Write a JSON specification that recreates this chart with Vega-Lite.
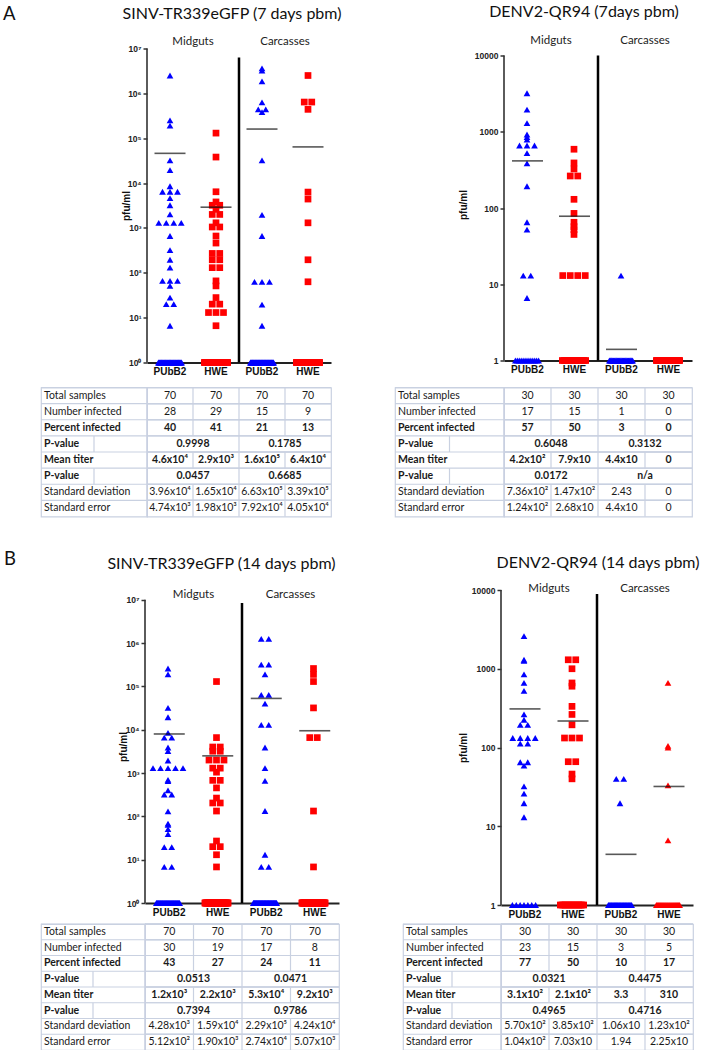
{
"$schema": "https://vega.github.io/schema/vega-lite/v6.json",
"background": "white",
"padding": {"left": 2, "top": 3.5, "right": 0, "bottom": 0},
"config": {"view": {"stroke": null}, "font": "Lato"},
"datasets": {
"rows": [
{"row":"Total samples","t":"Total samples"},{"row":"Number infected","t":"Number infected"},{"row":"Percent infected","t":"Percent infected"},{"row":"P-value (infection)","t":"P-value"},{"row":"Mean titer","t":"Mean titer"},{"row":"P-value (titer)","t":"P-value"},{"row":"Standard deviation","t":"Standard deviation"},{"row":"Standard error","t":"Standard error"}
],
"a1t": [
{"row":"Total samples","col":"Mid PUbB2","t":"70"},{"row":"Total samples","col":"Mid HWE","t":"70"},{"row":"Total samples","col":"Car PUbB2","t":"70"},{"row":"Total samples","col":"Car HWE","t":"70"},
{"row":"Number infected","col":"Mid PUbB2","t":"28"},{"row":"Number infected","col":"Mid HWE","t":"29"},{"row":"Number infected","col":"Car PUbB2","t":"15"},{"row":"Number infected","col":"Car HWE","t":"9"},
{"row":"Percent infected","col":"Mid PUbB2","t":"40"},{"row":"Percent infected","col":"Mid HWE","t":"41"},{"row":"Percent infected","col":"Car PUbB2","t":"21"},{"row":"Percent infected","col":"Car HWE","t":"13"},
{"row":"P-value (infection)","col":"Mid PUbB2","t":"0.9998"},{"row":"P-value (infection)","col":"Car PUbB2","t":"0.1785"},
{"row":"Mean titer","col":"Mid PUbB2","t":"4.6x10⁴"},{"row":"Mean titer","col":"Mid HWE","t":"2.9x10³"},{"row":"Mean titer","col":"Car PUbB2","t":"1.6x10⁵"},{"row":"Mean titer","col":"Car HWE","t":"6.4x10⁴"},
{"row":"P-value (titer)","col":"Mid PUbB2","t":"0.0457"},{"row":"P-value (titer)","col":"Car PUbB2","t":"0.6685"},
{"row":"Standard deviation","col":"Mid PUbB2","t":"3.96x10⁴"},{"row":"Standard deviation","col":"Mid HWE","t":"1.65x10⁴"},{"row":"Standard deviation","col":"Car PUbB2","t":"6.63x10⁵"},{"row":"Standard deviation","col":"Car HWE","t":"3.39x10⁵"},
{"row":"Standard error","col":"Mid PUbB2","t":"4.74x10³"},{"row":"Standard error","col":"Mid HWE","t":"1.98x10³"},{"row":"Standard error","col":"Car PUbB2","t":"7.92x10⁴"},{"row":"Standard error","col":"Car HWE","t":"4.05x10⁴"}
],
"a2t": [
{"row":"Total samples","col":"Mid PUbB2","t":"30"},{"row":"Total samples","col":"Mid HWE","t":"30"},{"row":"Total samples","col":"Car PUbB2","t":"30"},{"row":"Total samples","col":"Car HWE","t":"30"},
{"row":"Number infected","col":"Mid PUbB2","t":"17"},{"row":"Number infected","col":"Mid HWE","t":"15"},{"row":"Number infected","col":"Car PUbB2","t":"1"},{"row":"Number infected","col":"Car HWE","t":"0"},
{"row":"Percent infected","col":"Mid PUbB2","t":"57"},{"row":"Percent infected","col":"Mid HWE","t":"50"},{"row":"Percent infected","col":"Car PUbB2","t":"3"},{"row":"Percent infected","col":"Car HWE","t":"0"},
{"row":"P-value (infection)","col":"Mid PUbB2","t":"0.6048"},{"row":"P-value (infection)","col":"Car PUbB2","t":"0.3132"},
{"row":"Mean titer","col":"Mid PUbB2","t":"4.2x10²"},{"row":"Mean titer","col":"Mid HWE","t":"7.9x10"},{"row":"Mean titer","col":"Car PUbB2","t":"4.4x10"},{"row":"Mean titer","col":"Car HWE","t":"0"},
{"row":"P-value (titer)","col":"Mid PUbB2","t":"0.0172"},{"row":"P-value (titer)","col":"Car PUbB2","t":"n/a"},
{"row":"Standard deviation","col":"Mid PUbB2","t":"7.36x10²"},{"row":"Standard deviation","col":"Mid HWE","t":"1.47x10²"},{"row":"Standard deviation","col":"Car PUbB2","t":"2.43"},{"row":"Standard deviation","col":"Car HWE","t":"0"},
{"row":"Standard error","col":"Mid PUbB2","t":"1.24x10²"},{"row":"Standard error","col":"Mid HWE","t":"2.68x10"},{"row":"Standard error","col":"Car PUbB2","t":"4.4x10"},{"row":"Standard error","col":"Car HWE","t":"0"}
],
"b1t": [
{"row":"Total samples","col":"Mid PUbB2","t":"70"},{"row":"Total samples","col":"Mid HWE","t":"70"},{"row":"Total samples","col":"Car PUbB2","t":"70"},{"row":"Total samples","col":"Car HWE","t":"70"},
{"row":"Number infected","col":"Mid PUbB2","t":"30"},{"row":"Number infected","col":"Mid HWE","t":"19"},{"row":"Number infected","col":"Car PUbB2","t":"17"},{"row":"Number infected","col":"Car HWE","t":"8"},
{"row":"Percent infected","col":"Mid PUbB2","t":"43"},{"row":"Percent infected","col":"Mid HWE","t":"27"},{"row":"Percent infected","col":"Car PUbB2","t":"24"},{"row":"Percent infected","col":"Car HWE","t":"11"},
{"row":"P-value (infection)","col":"Mid PUbB2","t":"0.0513"},{"row":"P-value (infection)","col":"Car PUbB2","t":"0.0471"},
{"row":"Mean titer","col":"Mid PUbB2","t":"1.2x10³"},{"row":"Mean titer","col":"Mid HWE","t":"2.2x10³"},{"row":"Mean titer","col":"Car PUbB2","t":"5.3x10⁴"},{"row":"Mean titer","col":"Car HWE","t":"9.2x10³"},
{"row":"P-value (titer)","col":"Mid PUbB2","t":"0.7394"},{"row":"P-value (titer)","col":"Car PUbB2","t":"0.9786"},
{"row":"Standard deviation","col":"Mid PUbB2","t":"4.28x10³"},{"row":"Standard deviation","col":"Mid HWE","t":"1.59x10⁴"},{"row":"Standard deviation","col":"Car PUbB2","t":"2.29x10⁵"},{"row":"Standard deviation","col":"Car HWE","t":"4.24x10⁴"},
{"row":"Standard error","col":"Mid PUbB2","t":"5.12x10²"},{"row":"Standard error","col":"Mid HWE","t":"1.90x10³"},{"row":"Standard error","col":"Car PUbB2","t":"2.74x10⁴"},{"row":"Standard error","col":"Car HWE","t":"5.07x10³"}
],
"b2t": [
{"row":"Total samples","col":"Mid PUbB2","t":"30"},{"row":"Total samples","col":"Mid HWE","t":"30"},{"row":"Total samples","col":"Car PUbB2","t":"30"},{"row":"Total samples","col":"Car HWE","t":"30"},
{"row":"Number infected","col":"Mid PUbB2","t":"23"},{"row":"Number infected","col":"Mid HWE","t":"15"},{"row":"Number infected","col":"Car PUbB2","t":"3"},{"row":"Number infected","col":"Car HWE","t":"5"},
{"row":"Percent infected","col":"Mid PUbB2","t":"77"},{"row":"Percent infected","col":"Mid HWE","t":"50"},{"row":"Percent infected","col":"Car PUbB2","t":"10"},{"row":"Percent infected","col":"Car HWE","t":"17"},
{"row":"P-value (infection)","col":"Mid PUbB2","t":"0.0321"},{"row":"P-value (infection)","col":"Car PUbB2","t":"0.4475"},
{"row":"Mean titer","col":"Mid PUbB2","t":"3.1x10²"},{"row":"Mean titer","col":"Mid HWE","t":"2.1x10²"},{"row":"Mean titer","col":"Car PUbB2","t":"3.3"},{"row":"Mean titer","col":"Car HWE","t":"310"},
{"row":"P-value (titer)","col":"Mid PUbB2","t":"0.4965"},{"row":"P-value (titer)","col":"Car PUbB2","t":"0.4716"},
{"row":"Standard deviation","col":"Mid PUbB2","t":"5.70x10²"},{"row":"Standard deviation","col":"Mid HWE","t":"3.85x10²"},{"row":"Standard deviation","col":"Car PUbB2","t":"1.06x10"},{"row":"Standard deviation","col":"Car HWE","t":"1.23x10²"},
{"row":"Standard error","col":"Mid PUbB2","t":"1.04x10²"},{"row":"Standard error","col":"Mid HWE","t":"7.03x10"},{"row":"Standard error","col":"Car PUbB2","t":"1.94"},{"row":"Standard error","col":"Car HWE","t":"2.25x10"}
],
"a1m": [{"g":"Mid PUbB2","v":46000},{"g":"Mid HWE","v":2900},{"g":"Car PUbB2","v":160000},{"g":"Car HWE","v":64000}],
"a2m": [{"g":"Mid PUbB2","v":415},{"g":"Mid HWE","v":78},{"g":"Car PUbB2","v":1.4}],
"b1m": [{"g":"Mid PUbB2","v":8000},{"g":"Mid HWE","v":2500},{"g":"Car PUbB2","v":53000},{"g":"Car HWE","v":9500}],
"b2m": [{"g":"Mid PUbB2","v":309},{"g":"Mid HWE","v":217},{"g":"Car PUbB2","v":4.4},{"g":"Car HWE","v":32}],
"a1": [
{"g":"Mid PUbB2","v":2500000},{"g":"Mid PUbB2","v":250000},{"g":"Mid PUbB2","v":190000},{"g":"Mid PUbB2","v":32000},{"g":"Mid PUbB2","v":19500},{"g":"Mid PUbB2","v":8500},{"g":"Mid PUbB2","v":6400},{"g":"Mid PUbB2","v":6400},{"g":"Mid PUbB2","v":6400},{"g":"Mid PUbB2","v":4600},
{"g":"Mid PUbB2","v":3200},{"g":"Mid PUbB2","v":2000},{"g":"Mid PUbB2","v":1300},{"g":"Mid PUbB2","v":1300},{"g":"Mid PUbB2","v":1300},{"g":"Mid PUbB2","v":1300},{"g":"Mid PUbB2","v":660},{"g":"Mid PUbB2","v":320},{"g":"Mid PUbB2","v":195},{"g":"Mid PUbB2","v":130},
{"g":"Mid PUbB2","v":66},{"g":"Mid PUbB2","v":66},{"g":"Mid PUbB2","v":66},{"g":"Mid PUbB2","v":51},{"g":"Mid PUbB2","v":28},{"g":"Mid PUbB2","v":20},{"g":"Mid PUbB2","v":20},{"g":"Mid PUbB2","v":6.6},
{"g":"Mid PUbB2","v":1},{"g":"Mid PUbB2","v":1},{"g":"Mid PUbB2","v":1},{"g":"Mid PUbB2","v":1},{"g":"Mid PUbB2","v":1},{"g":"Mid PUbB2","v":1},{"g":"Mid PUbB2","v":1},{"g":"Mid PUbB2","v":1},{"g":"Mid PUbB2","v":1},{"g":"Mid PUbB2","v":1},
{"g":"Mid PUbB2","v":1},{"g":"Mid PUbB2","v":1},{"g":"Mid PUbB2","v":1},{"g":"Mid PUbB2","v":1},{"g":"Mid PUbB2","v":1},{"g":"Mid PUbB2","v":1},{"g":"Mid PUbB2","v":1},{"g":"Mid PUbB2","v":1},{"g":"Mid PUbB2","v":1},{"g":"Mid PUbB2","v":1},
{"g":"Mid PUbB2","v":1},{"g":"Mid PUbB2","v":1},{"g":"Mid PUbB2","v":1},{"g":"Mid PUbB2","v":1},{"g":"Mid PUbB2","v":1},{"g":"Mid PUbB2","v":1},{"g":"Mid PUbB2","v":1},{"g":"Mid PUbB2","v":1},{"g":"Mid PUbB2","v":1},{"g":"Mid PUbB2","v":1},
{"g":"Mid PUbB2","v":1},{"g":"Mid PUbB2","v":1},{"g":"Mid PUbB2","v":1},{"g":"Mid PUbB2","v":1},{"g":"Mid PUbB2","v":1},{"g":"Mid PUbB2","v":1},{"g":"Mid PUbB2","v":1},{"g":"Mid PUbB2","v":1},{"g":"Mid PUbB2","v":1},{"g":"Mid PUbB2","v":1},
{"g":"Mid PUbB2","v":1},{"g":"Mid PUbB2","v":1},
{"g":"Mid HWE","v":130000},{"g":"Mid HWE","v":38000},{"g":"Mid HWE","v":6400},{"g":"Mid HWE","v":3800},{"g":"Mid HWE","v":3200},{"g":"Mid HWE","v":3200},{"g":"Mid HWE","v":2600},{"g":"Mid HWE","v":2000},{"g":"Mid HWE","v":2000},{"g":"Mid HWE","v":1300},
{"g":"Mid HWE","v":1050},{"g":"Mid HWE","v":1050},{"g":"Mid HWE","v":660},{"g":"Mid HWE","v":460},{"g":"Mid HWE","v":270},{"g":"Mid HWE","v":270},{"g":"Mid HWE","v":195},{"g":"Mid HWE","v":195},{"g":"Mid HWE","v":130},{"g":"Mid HWE","v":130},
{"g":"Mid HWE","v":66},{"g":"Mid HWE","v":51},{"g":"Mid HWE","v":28},{"g":"Mid HWE","v":20},{"g":"Mid HWE","v":20},{"g":"Mid HWE","v":13},{"g":"Mid HWE","v":13},{"g":"Mid HWE","v":13},{"g":"Mid HWE","v":6.6},
{"g":"Mid HWE","v":1},{"g":"Mid HWE","v":1},{"g":"Mid HWE","v":1},{"g":"Mid HWE","v":1},{"g":"Mid HWE","v":1},{"g":"Mid HWE","v":1},{"g":"Mid HWE","v":1},{"g":"Mid HWE","v":1},{"g":"Mid HWE","v":1},{"g":"Mid HWE","v":1},
{"g":"Mid HWE","v":1},{"g":"Mid HWE","v":1},{"g":"Mid HWE","v":1},{"g":"Mid HWE","v":1},{"g":"Mid HWE","v":1},{"g":"Mid HWE","v":1},{"g":"Mid HWE","v":1},{"g":"Mid HWE","v":1},{"g":"Mid HWE","v":1},{"g":"Mid HWE","v":1},
{"g":"Mid HWE","v":1},{"g":"Mid HWE","v":1},{"g":"Mid HWE","v":1},{"g":"Mid HWE","v":1},{"g":"Mid HWE","v":1},{"g":"Mid HWE","v":1},{"g":"Mid HWE","v":1},{"g":"Mid HWE","v":1},{"g":"Mid HWE","v":1},{"g":"Mid HWE","v":1},
{"g":"Mid HWE","v":1},{"g":"Mid HWE","v":1},{"g":"Mid HWE","v":1},{"g":"Mid HWE","v":1},{"g":"Mid HWE","v":1},{"g":"Mid HWE","v":1},{"g":"Mid HWE","v":1},{"g":"Mid HWE","v":1},{"g":"Mid HWE","v":1},{"g":"Mid HWE","v":1},
{"g":"Mid HWE","v":1},
{"g":"Car PUbB2","v":3600000},{"g":"Car PUbB2","v":3200000},{"g":"Car PUbB2","v":1850000},{"g":"Car PUbB2","v":630000},{"g":"Car PUbB2","v":440000},{"g":"Car PUbB2","v":440000},{"g":"Car PUbB2","v":380000},{"g":"Car PUbB2","v":32000},{"g":"Car PUbB2","v":1950},{"g":"Car PUbB2","v":660},
{"g":"Car PUbB2","v":63},{"g":"Car PUbB2","v":63},{"g":"Car PUbB2","v":63},{"g":"Car PUbB2","v":19.5},{"g":"Car PUbB2","v":6.6},
{"g":"Car PUbB2","v":1},{"g":"Car PUbB2","v":1},{"g":"Car PUbB2","v":1},{"g":"Car PUbB2","v":1},{"g":"Car PUbB2","v":1},{"g":"Car PUbB2","v":1},{"g":"Car PUbB2","v":1},{"g":"Car PUbB2","v":1},{"g":"Car PUbB2","v":1},{"g":"Car PUbB2","v":1},
{"g":"Car PUbB2","v":1},{"g":"Car PUbB2","v":1},{"g":"Car PUbB2","v":1},{"g":"Car PUbB2","v":1},{"g":"Car PUbB2","v":1},{"g":"Car PUbB2","v":1},{"g":"Car PUbB2","v":1},{"g":"Car PUbB2","v":1},{"g":"Car PUbB2","v":1},{"g":"Car PUbB2","v":1},
{"g":"Car PUbB2","v":1},{"g":"Car PUbB2","v":1},{"g":"Car PUbB2","v":1},{"g":"Car PUbB2","v":1},{"g":"Car PUbB2","v":1},{"g":"Car PUbB2","v":1},{"g":"Car PUbB2","v":1},{"g":"Car PUbB2","v":1},{"g":"Car PUbB2","v":1},{"g":"Car PUbB2","v":1},
{"g":"Car PUbB2","v":1},{"g":"Car PUbB2","v":1},{"g":"Car PUbB2","v":1},{"g":"Car PUbB2","v":1},{"g":"Car PUbB2","v":1},{"g":"Car PUbB2","v":1},{"g":"Car PUbB2","v":1},{"g":"Car PUbB2","v":1},{"g":"Car PUbB2","v":1},{"g":"Car PUbB2","v":1},
{"g":"Car PUbB2","v":1},{"g":"Car PUbB2","v":1},{"g":"Car PUbB2","v":1},{"g":"Car PUbB2","v":1},{"g":"Car PUbB2","v":1},{"g":"Car PUbB2","v":1},{"g":"Car PUbB2","v":1},{"g":"Car PUbB2","v":1},{"g":"Car PUbB2","v":1},{"g":"Car PUbB2","v":1},
{"g":"Car PUbB2","v":1},{"g":"Car PUbB2","v":1},{"g":"Car PUbB2","v":1},{"g":"Car PUbB2","v":1},{"g":"Car PUbB2","v":1},
{"g":"Car HWE","v":2500000},{"g":"Car HWE","v":640000},{"g":"Car HWE","v":640000},{"g":"Car HWE","v":440000},{"g":"Car HWE","v":6300},{"g":"Car HWE","v":4400},{"g":"Car HWE","v":1300},{"g":"Car HWE","v":195},{"g":"Car HWE","v":63},
{"g":"Car HWE","v":1},{"g":"Car HWE","v":1},{"g":"Car HWE","v":1},{"g":"Car HWE","v":1},{"g":"Car HWE","v":1},{"g":"Car HWE","v":1},{"g":"Car HWE","v":1},{"g":"Car HWE","v":1},{"g":"Car HWE","v":1},{"g":"Car HWE","v":1},
{"g":"Car HWE","v":1},{"g":"Car HWE","v":1},{"g":"Car HWE","v":1},{"g":"Car HWE","v":1},{"g":"Car HWE","v":1},{"g":"Car HWE","v":1},{"g":"Car HWE","v":1},{"g":"Car HWE","v":1},{"g":"Car HWE","v":1},{"g":"Car HWE","v":1},
{"g":"Car HWE","v":1},{"g":"Car HWE","v":1},{"g":"Car HWE","v":1},{"g":"Car HWE","v":1},{"g":"Car HWE","v":1},{"g":"Car HWE","v":1},{"g":"Car HWE","v":1},{"g":"Car HWE","v":1},{"g":"Car HWE","v":1},{"g":"Car HWE","v":1},
{"g":"Car HWE","v":1},{"g":"Car HWE","v":1},{"g":"Car HWE","v":1},{"g":"Car HWE","v":1},{"g":"Car HWE","v":1},{"g":"Car HWE","v":1},{"g":"Car HWE","v":1},{"g":"Car HWE","v":1},{"g":"Car HWE","v":1},{"g":"Car HWE","v":1},
{"g":"Car HWE","v":1},{"g":"Car HWE","v":1},{"g":"Car HWE","v":1},{"g":"Car HWE","v":1},{"g":"Car HWE","v":1},{"g":"Car HWE","v":1},{"g":"Car HWE","v":1},{"g":"Car HWE","v":1},{"g":"Car HWE","v":1},{"g":"Car HWE","v":1},
{"g":"Car HWE","v":1},{"g":"Car HWE","v":1},{"g":"Car HWE","v":1},{"g":"Car HWE","v":1},{"g":"Car HWE","v":1},{"g":"Car HWE","v":1},{"g":"Car HWE","v":1},{"g":"Car HWE","v":1},{"g":"Car HWE","v":1},{"g":"Car HWE","v":1},
{"g":"Car HWE","v":1}
],
"a2": [
{"g":"Mid PUbB2","v":3200},{"g":"Mid PUbB2","v":1950},{"g":"Mid PUbB2","v":1300},{"g":"Mid PUbB2","v":920},{"g":"Mid PUbB2","v":850},{"g":"Mid PUbB2","v":790},{"g":"Mid PUbB2","v":660},{"g":"Mid PUbB2","v":660},{"g":"Mid PUbB2","v":660},{"g":"Mid PUbB2","v":525},
{"g":"Mid PUbB2","v":385},{"g":"Mid PUbB2","v":193},{"g":"Mid PUbB2","v":65},{"g":"Mid PUbB2","v":52},{"g":"Mid PUbB2","v":13},{"g":"Mid PUbB2","v":13},{"g":"Mid PUbB2","v":6.6},
{"g":"Mid PUbB2","v":1},{"g":"Mid PUbB2","v":1},{"g":"Mid PUbB2","v":1},{"g":"Mid PUbB2","v":1},{"g":"Mid PUbB2","v":1},{"g":"Mid PUbB2","v":1},{"g":"Mid PUbB2","v":1},{"g":"Mid PUbB2","v":1},{"g":"Mid PUbB2","v":1},{"g":"Mid PUbB2","v":1},
{"g":"Mid PUbB2","v":1},{"g":"Mid PUbB2","v":1},{"g":"Mid PUbB2","v":1},
{"g":"Mid HWE","v":590},{"g":"Mid HWE","v":390},{"g":"Mid HWE","v":325},{"g":"Mid HWE","v":263},{"g":"Mid HWE","v":263},{"g":"Mid HWE","v":130},{"g":"Mid HWE","v":85},{"g":"Mid HWE","v":65},{"g":"Mid HWE","v":57},{"g":"Mid HWE","v":52},
{"g":"Mid HWE","v":45},{"g":"Mid HWE","v":13},{"g":"Mid HWE","v":13},{"g":"Mid HWE","v":13},{"g":"Mid HWE","v":13},
{"g":"Mid HWE","v":1},{"g":"Mid HWE","v":1},{"g":"Mid HWE","v":1},{"g":"Mid HWE","v":1},{"g":"Mid HWE","v":1},{"g":"Mid HWE","v":1},{"g":"Mid HWE","v":1},{"g":"Mid HWE","v":1},{"g":"Mid HWE","v":1},{"g":"Mid HWE","v":1},
{"g":"Mid HWE","v":1},{"g":"Mid HWE","v":1},{"g":"Mid HWE","v":1},{"g":"Mid HWE","v":1},{"g":"Mid HWE","v":1},
{"g":"Car PUbB2","v":13},
{"g":"Car PUbB2","v":1},{"g":"Car PUbB2","v":1},{"g":"Car PUbB2","v":1},{"g":"Car PUbB2","v":1},{"g":"Car PUbB2","v":1},{"g":"Car PUbB2","v":1},{"g":"Car PUbB2","v":1},{"g":"Car PUbB2","v":1},{"g":"Car PUbB2","v":1},{"g":"Car PUbB2","v":1},
{"g":"Car PUbB2","v":1},{"g":"Car PUbB2","v":1},{"g":"Car PUbB2","v":1},{"g":"Car PUbB2","v":1},{"g":"Car PUbB2","v":1},{"g":"Car PUbB2","v":1},{"g":"Car PUbB2","v":1},{"g":"Car PUbB2","v":1},{"g":"Car PUbB2","v":1},{"g":"Car PUbB2","v":1},
{"g":"Car PUbB2","v":1},{"g":"Car PUbB2","v":1},{"g":"Car PUbB2","v":1},{"g":"Car PUbB2","v":1},{"g":"Car PUbB2","v":1},{"g":"Car PUbB2","v":1},{"g":"Car PUbB2","v":1},{"g":"Car PUbB2","v":1},{"g":"Car PUbB2","v":1},
{"g":"Car HWE","v":1},{"g":"Car HWE","v":1},{"g":"Car HWE","v":1},{"g":"Car HWE","v":1},{"g":"Car HWE","v":1},{"g":"Car HWE","v":1},{"g":"Car HWE","v":1},{"g":"Car HWE","v":1},{"g":"Car HWE","v":1},{"g":"Car HWE","v":1},
{"g":"Car HWE","v":1},{"g":"Car HWE","v":1},{"g":"Car HWE","v":1},{"g":"Car HWE","v":1},{"g":"Car HWE","v":1},{"g":"Car HWE","v":1},{"g":"Car HWE","v":1},{"g":"Car HWE","v":1},{"g":"Car HWE","v":1},{"g":"Car HWE","v":1},
{"g":"Car HWE","v":1},{"g":"Car HWE","v":1},{"g":"Car HWE","v":1},{"g":"Car HWE","v":1},{"g":"Car HWE","v":1},{"g":"Car HWE","v":1},{"g":"Car HWE","v":1},{"g":"Car HWE","v":1},{"g":"Car HWE","v":1},{"g":"Car HWE","v":1}
],
"b1": [
{"g":"Mid PUbB2","v":260000},{"g":"Mid PUbB2","v":190000},{"g":"Mid PUbB2","v":32000},{"g":"Mid PUbB2","v":19500},{"g":"Mid PUbB2","v":8500},{"g":"Mid PUbB2","v":6600},{"g":"Mid PUbB2","v":6600},{"g":"Mid PUbB2","v":3900},{"g":"Mid PUbB2","v":3200},{"g":"Mid PUbB2","v":1950},
{"g":"Mid PUbB2","v":1300},{"g":"Mid PUbB2","v":1300},{"g":"Mid PUbB2","v":1300},{"g":"Mid PUbB2","v":1300},{"g":"Mid PUbB2","v":1300},{"g":"Mid PUbB2","v":700},{"g":"Mid PUbB2","v":650},{"g":"Mid PUbB2","v":400},{"g":"Mid PUbB2","v":320},{"g":"Mid PUbB2","v":320},
{"g":"Mid PUbB2","v":130},{"g":"Mid PUbB2","v":68},{"g":"Mid PUbB2","v":64},{"g":"Mid PUbB2","v":51},{"g":"Mid PUbB2","v":39},{"g":"Mid PUbB2","v":19.5},{"g":"Mid PUbB2","v":19.5},{"g":"Mid PUbB2","v":6.8},{"g":"Mid PUbB2","v":6.8},
{"g":"Mid PUbB2","v":1},{"g":"Mid PUbB2","v":1},{"g":"Mid PUbB2","v":1},{"g":"Mid PUbB2","v":1},{"g":"Mid PUbB2","v":1},{"g":"Mid PUbB2","v":1},{"g":"Mid PUbB2","v":1},{"g":"Mid PUbB2","v":1},{"g":"Mid PUbB2","v":1},{"g":"Mid PUbB2","v":1},
{"g":"Mid PUbB2","v":1},{"g":"Mid PUbB2","v":1},{"g":"Mid PUbB2","v":1},{"g":"Mid PUbB2","v":1},{"g":"Mid PUbB2","v":1},{"g":"Mid PUbB2","v":1},{"g":"Mid PUbB2","v":1},{"g":"Mid PUbB2","v":1},{"g":"Mid PUbB2","v":1},{"g":"Mid PUbB2","v":1},
{"g":"Mid PUbB2","v":1},{"g":"Mid PUbB2","v":1},{"g":"Mid PUbB2","v":1},{"g":"Mid PUbB2","v":1},{"g":"Mid PUbB2","v":1},{"g":"Mid PUbB2","v":1},{"g":"Mid PUbB2","v":1},{"g":"Mid PUbB2","v":1},{"g":"Mid PUbB2","v":1},{"g":"Mid PUbB2","v":1},
{"g":"Mid PUbB2","v":1},{"g":"Mid PUbB2","v":1},{"g":"Mid PUbB2","v":1},{"g":"Mid PUbB2","v":1},{"g":"Mid PUbB2","v":1},{"g":"Mid PUbB2","v":1},{"g":"Mid PUbB2","v":1},{"g":"Mid PUbB2","v":1},{"g":"Mid PUbB2","v":1},{"g":"Mid PUbB2","v":1},
{"g":"Mid PUbB2","v":1},
{"g":"Mid HWE","v":130000},{"g":"Mid HWE","v":6600},{"g":"Mid HWE","v":4000},{"g":"Mid HWE","v":4000},{"g":"Mid HWE","v":3200},{"g":"Mid HWE","v":3200},{"g":"Mid HWE","v":2000},{"g":"Mid HWE","v":2000},{"g":"Mid HWE","v":2000},{"g":"Mid HWE","v":1300},
{"g":"Mid HWE","v":1300},{"g":"Mid HWE","v":1050},{"g":"Mid HWE","v":680},{"g":"Mid HWE","v":680},{"g":"Mid HWE","v":455},{"g":"Mid HWE","v":265},{"g":"Mid HWE","v":204},{"g":"Mid HWE","v":204},{"g":"Mid HWE","v":133},{"g":"Mid HWE","v":27},
{"g":"Mid HWE","v":20},{"g":"Mid HWE","v":20},{"g":"Mid HWE","v":13},{"g":"Mid HWE","v":6.8},
{"g":"Mid HWE","v":1},{"g":"Mid HWE","v":1},{"g":"Mid HWE","v":1},{"g":"Mid HWE","v":1},{"g":"Mid HWE","v":1},{"g":"Mid HWE","v":1},{"g":"Mid HWE","v":1},{"g":"Mid HWE","v":1},{"g":"Mid HWE","v":1},{"g":"Mid HWE","v":1},
{"g":"Mid HWE","v":1},{"g":"Mid HWE","v":1},{"g":"Mid HWE","v":1},{"g":"Mid HWE","v":1},{"g":"Mid HWE","v":1},{"g":"Mid HWE","v":1},{"g":"Mid HWE","v":1},{"g":"Mid HWE","v":1},{"g":"Mid HWE","v":1},{"g":"Mid HWE","v":1},
{"g":"Mid HWE","v":1},{"g":"Mid HWE","v":1},{"g":"Mid HWE","v":1},{"g":"Mid HWE","v":1},{"g":"Mid HWE","v":1},{"g":"Mid HWE","v":1},{"g":"Mid HWE","v":1},{"g":"Mid HWE","v":1},{"g":"Mid HWE","v":1},{"g":"Mid HWE","v":1},
{"g":"Mid HWE","v":1},{"g":"Mid HWE","v":1},{"g":"Mid HWE","v":1},{"g":"Mid HWE","v":1},{"g":"Mid HWE","v":1},{"g":"Mid HWE","v":1},{"g":"Mid HWE","v":1},{"g":"Mid HWE","v":1},{"g":"Mid HWE","v":1},{"g":"Mid HWE","v":1},
{"g":"Mid HWE","v":1},{"g":"Mid HWE","v":1},{"g":"Mid HWE","v":1},{"g":"Mid HWE","v":1},{"g":"Mid HWE","v":1},{"g":"Mid HWE","v":1},
{"g":"Car PUbB2","v":1260000},{"g":"Car PUbB2","v":1260000},{"g":"Car PUbB2","v":320000},{"g":"Car PUbB2","v":320000},{"g":"Car PUbB2","v":190000},{"g":"Car PUbB2","v":64000},{"g":"Car PUbB2","v":64000},{"g":"Car PUbB2","v":40000},{"g":"Car PUbB2","v":13000},{"g":"Car PUbB2","v":13000},
{"g":"Car PUbB2","v":3900},{"g":"Car PUbB2","v":1300},{"g":"Car PUbB2","v":660},{"g":"Car PUbB2","v":133},{"g":"Car PUbB2","v":13},{"g":"Car PUbB2","v":6.8},{"g":"Car PUbB2","v":6.8},
{"g":"Car PUbB2","v":1},{"g":"Car PUbB2","v":1},{"g":"Car PUbB2","v":1},{"g":"Car PUbB2","v":1},{"g":"Car PUbB2","v":1},{"g":"Car PUbB2","v":1},{"g":"Car PUbB2","v":1},{"g":"Car PUbB2","v":1},{"g":"Car PUbB2","v":1},{"g":"Car PUbB2","v":1},
{"g":"Car PUbB2","v":1},{"g":"Car PUbB2","v":1},{"g":"Car PUbB2","v":1},{"g":"Car PUbB2","v":1},{"g":"Car PUbB2","v":1},{"g":"Car PUbB2","v":1},{"g":"Car PUbB2","v":1},{"g":"Car PUbB2","v":1},{"g":"Car PUbB2","v":1},{"g":"Car PUbB2","v":1},
{"g":"Car PUbB2","v":1},{"g":"Car PUbB2","v":1},{"g":"Car PUbB2","v":1},{"g":"Car PUbB2","v":1},{"g":"Car PUbB2","v":1},{"g":"Car PUbB2","v":1},{"g":"Car PUbB2","v":1},{"g":"Car PUbB2","v":1},{"g":"Car PUbB2","v":1},{"g":"Car PUbB2","v":1},
{"g":"Car PUbB2","v":1},{"g":"Car PUbB2","v":1},{"g":"Car PUbB2","v":1},{"g":"Car PUbB2","v":1},{"g":"Car PUbB2","v":1},{"g":"Car PUbB2","v":1},{"g":"Car PUbB2","v":1},{"g":"Car PUbB2","v":1},{"g":"Car PUbB2","v":1},{"g":"Car PUbB2","v":1},
{"g":"Car PUbB2","v":1},{"g":"Car PUbB2","v":1},{"g":"Car PUbB2","v":1},{"g":"Car PUbB2","v":1},{"g":"Car PUbB2","v":1},{"g":"Car PUbB2","v":1},{"g":"Car PUbB2","v":1},{"g":"Car PUbB2","v":1},{"g":"Car PUbB2","v":1},{"g":"Car PUbB2","v":1},
{"g":"Car PUbB2","v":1},{"g":"Car PUbB2","v":1},{"g":"Car PUbB2","v":1},
{"g":"Car HWE","v":260000},{"g":"Car HWE","v":190000},{"g":"Car HWE","v":130000},{"g":"Car HWE","v":32000},{"g":"Car HWE","v":6600},{"g":"Car HWE","v":6600},{"g":"Car HWE","v":133},{"g":"Car HWE","v":6.8},
{"g":"Car HWE","v":1},{"g":"Car HWE","v":1},{"g":"Car HWE","v":1},{"g":"Car HWE","v":1},{"g":"Car HWE","v":1},{"g":"Car HWE","v":1},{"g":"Car HWE","v":1},{"g":"Car HWE","v":1},{"g":"Car HWE","v":1},{"g":"Car HWE","v":1},
{"g":"Car HWE","v":1},{"g":"Car HWE","v":1},{"g":"Car HWE","v":1},{"g":"Car HWE","v":1},{"g":"Car HWE","v":1},{"g":"Car HWE","v":1},{"g":"Car HWE","v":1},{"g":"Car HWE","v":1},{"g":"Car HWE","v":1},{"g":"Car HWE","v":1},
{"g":"Car HWE","v":1},{"g":"Car HWE","v":1},{"g":"Car HWE","v":1},{"g":"Car HWE","v":1},{"g":"Car HWE","v":1},{"g":"Car HWE","v":1},{"g":"Car HWE","v":1},{"g":"Car HWE","v":1},{"g":"Car HWE","v":1},{"g":"Car HWE","v":1},
{"g":"Car HWE","v":1},{"g":"Car HWE","v":1},{"g":"Car HWE","v":1},{"g":"Car HWE","v":1},{"g":"Car HWE","v":1},{"g":"Car HWE","v":1},{"g":"Car HWE","v":1},{"g":"Car HWE","v":1},{"g":"Car HWE","v":1},{"g":"Car HWE","v":1},
{"g":"Car HWE","v":1},{"g":"Car HWE","v":1},{"g":"Car HWE","v":1},{"g":"Car HWE","v":1},{"g":"Car HWE","v":1},{"g":"Car HWE","v":1},{"g":"Car HWE","v":1},{"g":"Car HWE","v":1},{"g":"Car HWE","v":1},{"g":"Car HWE","v":1},
{"g":"Car HWE","v":1},{"g":"Car HWE","v":1},{"g":"Car HWE","v":1},{"g":"Car HWE","v":1},{"g":"Car HWE","v":1},{"g":"Car HWE","v":1},{"g":"Car HWE","v":1},{"g":"Car HWE","v":1},{"g":"Car HWE","v":1},{"g":"Car HWE","v":1},
{"g":"Car HWE","v":1},{"g":"Car HWE","v":1}
],
"b2": [
{"g":"Mid PUbB2","v":2600},{"g":"Mid PUbB2","v":1300},{"g":"Mid PUbB2","v":1260},{"g":"Mid PUbB2","v":850},{"g":"Mid PUbB2","v":660},{"g":"Mid PUbB2","v":525},{"g":"Mid PUbB2","v":263},{"g":"Mid PUbB2","v":225},{"g":"Mid PUbB2","v":194},{"g":"Mid PUbB2","v":194},
{"g":"Mid PUbB2","v":132},{"g":"Mid PUbB2","v":132},{"g":"Mid PUbB2","v":132},{"g":"Mid PUbB2","v":132},{"g":"Mid PUbB2","v":112},{"g":"Mid PUbB2","v":112},{"g":"Mid PUbB2","v":65},{"g":"Mid PUbB2","v":65},{"g":"Mid PUbB2","v":59},{"g":"Mid PUbB2","v":32},
{"g":"Mid PUbB2","v":26},{"g":"Mid PUbB2","v":19.6},{"g":"Mid PUbB2","v":13},
{"g":"Mid PUbB2","v":1},{"g":"Mid PUbB2","v":1},{"g":"Mid PUbB2","v":1},{"g":"Mid PUbB2","v":1},{"g":"Mid PUbB2","v":1},{"g":"Mid PUbB2","v":1},{"g":"Mid PUbB2","v":1},
{"g":"Mid HWE","v":1300},{"g":"Mid HWE","v":1300},{"g":"Mid HWE","v":1000},{"g":"Mid HWE","v":660},{"g":"Mid HWE","v":600},{"g":"Mid HWE","v":333},{"g":"Mid HWE","v":263},{"g":"Mid HWE","v":194},{"g":"Mid HWE","v":132},{"g":"Mid HWE","v":132},
{"g":"Mid HWE","v":132},{"g":"Mid HWE","v":66},{"g":"Mid HWE","v":66},{"g":"Mid HWE","v":46},{"g":"Mid HWE","v":40},
{"g":"Mid HWE","v":1},{"g":"Mid HWE","v":1},{"g":"Mid HWE","v":1},{"g":"Mid HWE","v":1},{"g":"Mid HWE","v":1},{"g":"Mid HWE","v":1},{"g":"Mid HWE","v":1},{"g":"Mid HWE","v":1},{"g":"Mid HWE","v":1},{"g":"Mid HWE","v":1},
{"g":"Mid HWE","v":1},{"g":"Mid HWE","v":1},{"g":"Mid HWE","v":1},{"g":"Mid HWE","v":1},{"g":"Mid HWE","v":1},
{"g":"Car PUbB2","v":40},{"g":"Car PUbB2","v":40},{"g":"Car PUbB2","v":19.6},
{"g":"Car PUbB2","v":1},{"g":"Car PUbB2","v":1},{"g":"Car PUbB2","v":1},{"g":"Car PUbB2","v":1},{"g":"Car PUbB2","v":1},{"g":"Car PUbB2","v":1},{"g":"Car PUbB2","v":1},{"g":"Car PUbB2","v":1},{"g":"Car PUbB2","v":1},{"g":"Car PUbB2","v":1},
{"g":"Car PUbB2","v":1},{"g":"Car PUbB2","v":1},{"g":"Car PUbB2","v":1},{"g":"Car PUbB2","v":1},{"g":"Car PUbB2","v":1},{"g":"Car PUbB2","v":1},{"g":"Car PUbB2","v":1},{"g":"Car PUbB2","v":1},{"g":"Car PUbB2","v":1},{"g":"Car PUbB2","v":1},
{"g":"Car PUbB2","v":1},{"g":"Car PUbB2","v":1},{"g":"Car PUbB2","v":1},{"g":"Car PUbB2","v":1},{"g":"Car PUbB2","v":1},{"g":"Car PUbB2","v":1},{"g":"Car PUbB2","v":1},
{"g":"Car HWE","v":660},{"g":"Car HWE","v":105},{"g":"Car HWE","v":100},{"g":"Car HWE","v":33},{"g":"Car HWE","v":6.6},
{"g":"Car HWE","v":1},{"g":"Car HWE","v":1},{"g":"Car HWE","v":1},{"g":"Car HWE","v":1},{"g":"Car HWE","v":1},{"g":"Car HWE","v":1},{"g":"Car HWE","v":1},{"g":"Car HWE","v":1},{"g":"Car HWE","v":1},{"g":"Car HWE","v":1},
{"g":"Car HWE","v":1},{"g":"Car HWE","v":1},{"g":"Car HWE","v":1},{"g":"Car HWE","v":1},{"g":"Car HWE","v":1},{"g":"Car HWE","v":1},{"g":"Car HWE","v":1},{"g":"Car HWE","v":1},{"g":"Car HWE","v":1},{"g":"Car HWE","v":1},
{"g":"Car HWE","v":1},{"g":"Car HWE","v":1},{"g":"Car HWE","v":1},{"g":"Car HWE","v":1},{"g":"Car HWE","v":1}
]
},
"spacing": 30.5,
"vconcat": [
{"hconcat": [
 {"concat": [
  {"width": 106, "height": 1, "data": {"values": []}, "mark": "point", "view": {"stroke": "transparent"},
   "title": {"text": "A", "font": "Lato", "fontSize": 18.5, "fontWeight": "normal", "color": "#111", "anchor": "start", "frame": "group", "baseline": "alphabetic", "offset": 10.4, "dx": -38}},
  {"width": 184, "height": 314,
   "title": {"text": "SINV-TR339eGFP (7 days pbm)", "font": "Lato", "fontSize": 16, "fontWeight": "normal", "color": "#111", "anchor": "middle", "frame": "group", "baseline": "alphabetic", "offset": 1, "dx": -7},
   "layer": [
    {"data": {"name": "a1"},
     "transform": [{"window": [{"op": "row_number", "as": "rn"}, {"op": "count", "as": "n"}], "groupby": ["g", "v"], "frame": [null, null]},
                   {"calculate": "datum.v <= 1 ? (datum.n > 1 ? ((datum.rn - 1) / (datum.n - 1) - 0.5) * 3.1 : 0) : datum.rn - (datum.n + 1) / 2", "as": "off"}],
     "mark": {"type": "point", "filled": true, "size": 45, "opacity": 1, "strokeWidth": 0},
     "encoding": {
      "x": {"field": "g", "type": "nominal", "scale": {"type": "band", "domain": ["Mid PUbB2","Mid HWE","Car PUbB2","Car HWE"], "paddingInner": 0, "paddingOuter": 0},
            "axis": {"title": null, "labelExpr": "split(datum.label, ' ')[1]", "labelFont": "Liberation Sans", "labelFontWeight": "bold", "labelFontSize": 10, "labelColor": "#111", "ticks": false, "tickSize": 0, "domainColor": "#222", "domainWidth": 2, "labelPadding": 4, "labelAngle": 0, "grid": false}},
      "xOffset": {"field": "off", "type": "quantitative", "scale": {"domain": [-3, 3], "range": [0.5, 45.5]}},
      "y": {"field": "v", "type": "quantitative", "scale": {"type": "log", "domain": [1, 10000000], "nice": false},
            "axis": {"values": [1,10,100,1000,10000,100000,1000000,10000000], "labelExpr": "'10' + ['⁰','¹','²','³','⁴','⁵','⁶','⁷'][round(log(datum.value)/LN10)]", "title": "pfu/ml", "titleFont": "Liberation Sans", "titleFontWeight": "bold", "titleFontSize": 10, "titleColor": "#111", "titlePadding": -4, "labelFont": "Liberation Sans", "labelFontWeight": "bold", "labelFontSize": 8.5, "labelColor": "#222", "tickColor": "#333", "tickWidth": 1.5, "tickSize": 4, "domain": false, "grid": false, "labelPadding": 2}},
      "color": {"condition": {"test": "indexof(datum.g, 'HWE') >= 0", "value": "#ff0000"}, "value": "#0000ff"},
      "shape": {"condition": {"test": "indexof(datum.g, 'HWE') >= 0", "value": "square"}, "value": "triangle-up"}
     }},
    {"data": {"name": "a1m"}, "mark": {"type": "tick", "color": "#111", "thickness": 1.6, "size": 31}, "encoding": {"x": {"field": "g", "type": "nominal"}, "y": {"field": "v", "type": "quantitative"}}},
    {"data": {"values": [{}]}, "mark": {"type": "rule", "color": "#000", "strokeWidth": 2.5}, "encoding": {"x": {"datum": "Car PUbB2", "bandPosition": 0}, "y": {"datum": 6300000}, "y2": {"datum": 1}}},
    {"data": {"values": [{}]}, "mark": {"type": "rule", "color": "#333", "strokeWidth": 1.6}, "encoding": {"x": {"datum": "Mid PUbB2", "bandPosition": 0}, "y": {"datum": 10000000}, "y2": {"datum": 1}}},
    {"data": {"values": [{}]}, "mark": {"type": "text", "text": "Midguts", "font": "Lato", "fontSize": 11.5, "color": "#222", "baseline": "middle"}, "encoding": {"x": {"datum": "Mid HWE", "bandPosition": 0}, "y": {"datum": 14300000}}},
    {"data": {"values": [{}]}, "mark": {"type": "text", "text": "Carcasses", "font": "Lato", "fontSize": 11.5, "color": "#222", "baseline": "middle"}, "encoding": {"x": {"datum": "Car HWE", "bandPosition": 0}, "y": {"datum": 14300000}}}
   ]},
  {"width": 106, "height": 129, "data": {"name": "rows"}, "view": {"stroke": "#c9d1e1", "strokeWidth": 1.2},
   "encoding": {"y": {"field": "row", "type": "nominal", "scale": {"type": "band", "domain": ["Total samples","Number infected","Percent infected","P-value (infection)","Mean titer","P-value (titer)","Standard deviation","Standard error"], "paddingInner": 0, "paddingOuter": 0}, "axis": null}},
   "layer": [
    {"mark": {"type": "rule", "color": "#c9d1e1", "strokeWidth": 1.2}, "encoding": {"y": {"field": "row", "type": "nominal", "bandPosition": 0}}},
    {"transform": [{"filter": "indexof(datum.row, 'P-value') == 0"}], "mark": {"type": "rule", "color": "#c9d1e1", "strokeWidth": 1.2},
     "encoding": {"x": {"datum": "split", "bandPosition": 0, "scale": {"type": "band", "domain": ["name", "split"], "paddingInner": 0, "paddingOuter": 0}, "axis": null}, "y": {"field": "row", "type": "nominal", "bandPosition": 0}, "y2": {"field": "row", "bandPosition": 1}}},
    {"transform": [{"filter": "indexof(['Total samples','Number infected','Standard deviation','Standard error'], datum.row) >= 0"}], "mark": {"type": "text", "font": "Lato", "fontSize": 10.5, "color": "#1a1a1a", "align": "left", "dx": 3},
     "encoding": {"x": {"datum": "name", "bandPosition": 0, "axis": null}, "text": {"field": "t"}}},
    {"transform": [{"filter": "indexof(['Total samples','Number infected','Standard deviation','Standard error'], datum.row) < 0"}], "mark": {"type": "text", "font": "Lato", "fontSize": 10.5, "fontWeight": "bold", "color": "#1a1a1a", "align": "left", "dx": 3},
     "encoding": {"x": {"datum": "name", "bandPosition": 0, "axis": null}, "text": {"field": "t"}}}
   ]},
  {"width": 184, "height": 129, "data": {"name": "a1t"}, "view": {"stroke": "#c9d1e1", "strokeWidth": 1.2},
   "encoding": {"y": {"field": "row", "type": "nominal", "scale": {"type": "band", "domain": ["Total samples","Number infected","Percent infected","P-value (infection)","Mean titer","P-value (titer)","Standard deviation","Standard error"], "paddingInner": 0, "paddingOuter": 0}, "axis": null}},
   "layer": [
    {"mark": {"type": "rule", "color": "#c9d1e1", "strokeWidth": 1.2}, "encoding": {"y": {"field": "row", "type": "nominal", "bandPosition": 0}}},
    {"mark": {"type": "rule", "color": "#c9d1e1", "strokeWidth": 1.2},
     "encoding": {"x": {"field": "col", "type": "nominal", "bandPosition": 0, "scale": {"type": "band", "domain": ["Mid PUbB2","Mid HWE","Car PUbB2","Car HWE"], "paddingInner": 0, "paddingOuter": 0}, "axis": null}, "y": {"field": "row", "type": "nominal", "bandPosition": 0}, "y2": {"field": "row", "bandPosition": 1}}},
    {"transform": [{"filter": "indexof(['Total samples','Number infected','Standard deviation','Standard error'], datum.row) >= 0"}], "mark": {"type": "text", "font": "Lato", "fontSize": 10.5, "color": "#1a1a1a"},
     "encoding": {"x": {"field": "col", "type": "nominal", "axis": null}, "text": {"field": "t"}}},
    {"transform": [{"filter": "datum.row == 'Percent infected' || datum.row == 'Mean titer'"}], "mark": {"type": "text", "font": "Lato", "fontSize": 10.5, "fontWeight": "bold", "color": "#1a1a1a"},
     "encoding": {"x": {"field": "col", "type": "nominal", "axis": null}, "text": {"field": "t"}}},
    {"transform": [{"filter": "indexof(datum.row, 'P-value') == 0"}], "mark": {"type": "text", "font": "Lato", "fontSize": 10.5, "fontWeight": "bold", "color": "#1a1a1a"},
     "encoding": {"x": {"field": "col", "type": "nominal", "bandPosition": 1, "axis": null}, "text": {"field": "t"}}}
   ]}
 ], "columns": 2, "spacing": {"row": 25, "column": 0}, "bounds": "flush"},
 {"concat": [
  {"width": 109, "height": 1, "data": {"values": []}, "mark": "point", "view": {"stroke": "transparent"}},
  {"width": 188, "height": 312,
   "title": {"text": "DENV2-QR94 (7days pbm)", "font": "Lato", "fontSize": 16, "fontWeight": "normal", "color": "#111", "anchor": "middle", "frame": "group", "baseline": "alphabetic", "offset": 2.9, "dx": -14},
   "layer": [
    {"data": {"name": "a2"},
     "transform": [{"window": [{"op": "row_number", "as": "rn"}, {"op": "count", "as": "n"}], "groupby": ["g", "v"], "frame": [null, null]},
                   {"calculate": "datum.v <= 1 ? (datum.n > 1 ? ((datum.rn - 1) / (datum.n - 1) - 0.5) * 3.1 : 0) : datum.rn - (datum.n + 1) / 2", "as": "off"}],
     "mark": {"type": "point", "filled": true, "size": 45, "opacity": 1, "strokeWidth": 0},
     "encoding": {
      "x": {"field": "g", "type": "nominal", "scale": {"type": "band", "domain": ["Mid PUbB2","Mid HWE","Car PUbB2","Car HWE"], "paddingInner": 0, "paddingOuter": 0},
            "axis": {"title": null, "labelExpr": "split(datum.label, ' ')[1]", "labelFont": "Liberation Sans", "labelFontWeight": "bold", "labelFontSize": 10, "labelColor": "#111", "ticks": false, "tickSize": 0, "domainColor": "#222", "domainWidth": 2, "labelPadding": 4, "labelAngle": 0, "grid": false}},
      "xOffset": {"field": "off", "type": "quantitative", "scale": {"domain": [-3, 3], "range": [1, 46]}},
      "y": {"field": "v", "type": "quantitative", "scale": {"type": "log", "domain": [1, 12360], "nice": false},
            "axis": {"values": [1,10,100,1000,10000], "format": "d", "title": "pfu/ml", "titleFont": "Liberation Sans", "titleFontWeight": "bold", "titleFontSize": 10, "titleColor": "#111", "titlePadding": 6, "labelFont": "Liberation Sans", "labelFontWeight": "bold", "labelFontSize": 8.5, "labelColor": "#222", "tickColor": "#333", "tickWidth": 1.5, "tickSize": 4, "domain": false, "grid": false, "labelPadding": 2}},
      "color": {"condition": {"test": "indexof(datum.g, 'HWE') >= 0", "value": "#ff0000"}, "value": "#0000ff"},
      "shape": {"condition": {"test": "indexof(datum.g, 'HWE') >= 0", "value": "square"}, "value": "triangle-up"}
     }},
    {"data": {"name": "a2m"}, "mark": {"type": "tick", "color": "#111", "thickness": 1.6, "size": 31}, "encoding": {"x": {"field": "g", "type": "nominal"}, "y": {"field": "v", "type": "quantitative"}}},
    {"data": {"values": [{}]}, "mark": {"type": "rule", "color": "#000", "strokeWidth": 2.5}, "encoding": {"x": {"datum": "Car PUbB2", "bandPosition": 0}, "y": {"datum": 10000}, "y2": {"datum": 1}}},
    {"data": {"values": [{}]}, "mark": {"type": "rule", "color": "#333", "strokeWidth": 1.6}, "encoding": {"x": {"datum": "Mid PUbB2", "bandPosition": 0}, "y": {"datum": 10000}, "y2": {"datum": 1}}},
    {"data": {"values": [{}]}, "mark": {"type": "text", "text": "Midguts", "font": "Lato", "fontSize": 11.5, "color": "#222", "baseline": "middle"}, "encoding": {"x": {"datum": "Mid HWE", "bandPosition": 0}, "y": {"datum": 15270}}},
    {"data": {"values": [{}]}, "mark": {"type": "text", "text": "Carcasses", "font": "Lato", "fontSize": 11.5, "color": "#222", "baseline": "middle"}, "encoding": {"x": {"datum": "Car HWE", "bandPosition": 0}, "y": {"datum": 15270}}}
   ]},
  {"width": 109, "height": 129, "data": {"name": "rows"}, "view": {"stroke": "#c9d1e1", "strokeWidth": 1.2},
   "encoding": {"y": {"field": "row", "type": "nominal", "scale": {"type": "band", "domain": ["Total samples","Number infected","Percent infected","P-value (infection)","Mean titer","P-value (titer)","Standard deviation","Standard error"], "paddingInner": 0, "paddingOuter": 0}, "axis": null}},
   "layer": [
    {"mark": {"type": "rule", "color": "#c9d1e1", "strokeWidth": 1.2}, "encoding": {"y": {"field": "row", "type": "nominal", "bandPosition": 0}}},
    {"transform": [{"filter": "indexof(datum.row, 'P-value') == 0"}], "mark": {"type": "rule", "color": "#c9d1e1", "strokeWidth": 1.2},
     "encoding": {"x": {"datum": "split", "bandPosition": 0, "scale": {"type": "band", "domain": ["name", "split"], "paddingInner": 0, "paddingOuter": 0}, "axis": null}, "y": {"field": "row", "type": "nominal", "bandPosition": 0}, "y2": {"field": "row", "bandPosition": 1}}},
    {"transform": [{"filter": "indexof(['Total samples','Number infected','Standard deviation','Standard error'], datum.row) >= 0"}], "mark": {"type": "text", "font": "Lato", "fontSize": 10.5, "color": "#1a1a1a", "align": "left", "dx": 3},
     "encoding": {"x": {"datum": "name", "bandPosition": 0, "axis": null}, "text": {"field": "t"}}},
    {"transform": [{"filter": "indexof(['Total samples','Number infected','Standard deviation','Standard error'], datum.row) < 0"}], "mark": {"type": "text", "font": "Lato", "fontSize": 10.5, "fontWeight": "bold", "color": "#1a1a1a", "align": "left", "dx": 3},
     "encoding": {"x": {"datum": "name", "bandPosition": 0, "axis": null}, "text": {"field": "t"}}}
   ]},
  {"width": 188, "height": 129, "data": {"name": "a2t"}, "view": {"stroke": "#c9d1e1", "strokeWidth": 1.2},
   "encoding": {"y": {"field": "row", "type": "nominal", "scale": {"type": "band", "domain": ["Total samples","Number infected","Percent infected","P-value (infection)","Mean titer","P-value (titer)","Standard deviation","Standard error"], "paddingInner": 0, "paddingOuter": 0}, "axis": null}},
   "layer": [
    {"mark": {"type": "rule", "color": "#c9d1e1", "strokeWidth": 1.2}, "encoding": {"y": {"field": "row", "type": "nominal", "bandPosition": 0}}},
    {"mark": {"type": "rule", "color": "#c9d1e1", "strokeWidth": 1.2},
     "encoding": {"x": {"field": "col", "type": "nominal", "bandPosition": 0, "scale": {"type": "band", "domain": ["Mid PUbB2","Mid HWE","Car PUbB2","Car HWE"], "paddingInner": 0, "paddingOuter": 0}, "axis": null}, "y": {"field": "row", "type": "nominal", "bandPosition": 0}, "y2": {"field": "row", "bandPosition": 1}}},
    {"transform": [{"filter": "indexof(['Total samples','Number infected','Standard deviation','Standard error'], datum.row) >= 0"}], "mark": {"type": "text", "font": "Lato", "fontSize": 10.5, "color": "#1a1a1a"},
     "encoding": {"x": {"field": "col", "type": "nominal", "axis": null}, "text": {"field": "t"}}},
    {"transform": [{"filter": "datum.row == 'Percent infected' || datum.row == 'Mean titer'"}], "mark": {"type": "text", "font": "Lato", "fontSize": 10.5, "fontWeight": "bold", "color": "#1a1a1a"},
     "encoding": {"x": {"field": "col", "type": "nominal", "axis": null}, "text": {"field": "t"}}},
    {"transform": [{"filter": "indexof(datum.row, 'P-value') == 0"}], "mark": {"type": "text", "font": "Lato", "fontSize": 10.5, "fontWeight": "bold", "color": "#1a1a1a"},
     "encoding": {"x": {"field": "col", "type": "nominal", "bandPosition": 1, "axis": null}, "text": {"field": "t"}}}
   ]}
 ], "columns": 2, "spacing": {"row": 27, "column": 0}, "bounds": "flush"}
], "spacing": 51},
{"hconcat": [
 {"concat": [
  {"width": 104, "height": 1, "data": {"values": []}, "mark": "point", "view": {"stroke": "transparent"},
   "title": {"text": "B", "font": "Lato", "fontSize": 18.5, "fontWeight": "normal", "color": "#111", "anchor": "start", "frame": "group", "baseline": "alphabetic", "offset": 6.5, "dx": -37}},
  {"width": 194, "height": 313,
   "title": {"text": "SINV-TR339eGFP (14 days pbm)", "font": "Lato", "fontSize": 16, "fontWeight": "normal", "color": "#111", "anchor": "middle", "frame": "group", "baseline": "alphabetic", "offset": 3.5, "dx": -20.5},
   "layer": [
    {"data": {"name": "b1"},
     "transform": [{"window": [{"op": "row_number", "as": "rn"}, {"op": "count", "as": "n"}], "groupby": ["g", "v"], "frame": [null, null]},
                   {"calculate": "datum.v <= 1 ? (datum.n > 1 ? ((datum.rn - 1) / (datum.n - 1) - 0.5) * 3.1 : 0) : datum.rn - (datum.n + 1) / 2", "as": "off"}],
     "mark": {"type": "point", "filled": true, "size": 45, "opacity": 1, "strokeWidth": 0},
     "encoding": {
      "x": {"field": "g", "type": "nominal", "scale": {"type": "band", "domain": ["Mid PUbB2","Mid HWE","Car PUbB2","Car HWE"], "paddingInner": 0, "paddingOuter": 0},
            "axis": {"title": null, "labelExpr": "split(datum.label, ' ')[1]", "labelFont": "Liberation Sans", "labelFontWeight": "bold", "labelFontSize": 10, "labelColor": "#111", "ticks": false, "tickSize": 0, "domainColor": "#222", "domainWidth": 2, "labelPadding": 4, "labelAngle": 0, "grid": false}},
      "xOffset": {"field": "off", "type": "quantitative", "scale": {"domain": [-3, 3], "range": [1.75, 46.75]}},
      "y": {"field": "v", "type": "quantitative", "scale": {"type": "log", "domain": [1, 16900000], "nice": false},
            "axis": {"values": [1,10,100,1000,10000,100000,1000000,10000000], "labelExpr": "'10' + ['⁰','¹','²','³','⁴','⁵','⁶','⁷'][round(log(datum.value)/LN10)]", "title": "pfu/ml", "titleFont": "Liberation Sans", "titleFontWeight": "bold", "titleFontSize": 10, "titleColor": "#111", "titlePadding": -3, "labelFont": "Liberation Sans", "labelFontWeight": "bold", "labelFontSize": 8.5, "labelColor": "#222", "tickColor": "#333", "tickWidth": 1.5, "tickSize": 4, "domain": false, "grid": false, "labelPadding": 2}},
      "color": {"condition": {"test": "indexof(datum.g, 'HWE') >= 0", "value": "#ff0000"}, "value": "#0000ff"},
      "shape": {"condition": {"test": "indexof(datum.g, 'HWE') >= 0", "value": "square"}, "value": "triangle-up"}
     }},
    {"data": {"name": "b1m"}, "mark": {"type": "tick", "color": "#111", "thickness": 1.6, "size": 31}, "encoding": {"x": {"field": "g", "type": "nominal"}, "y": {"field": "v", "type": "quantitative"}}},
    {"data": {"values": [{}]}, "mark": {"type": "rule", "color": "#000", "strokeWidth": 2.5}, "encoding": {"x": {"datum": "Car PUbB2", "bandPosition": 0}, "y": {"datum": 8480000}, "y2": {"datum": 1}}},
    {"data": {"values": [{}]}, "mark": {"type": "rule", "color": "#333", "strokeWidth": 1.6}, "encoding": {"x": {"datum": "Mid PUbB2", "bandPosition": 0}, "y": {"datum": 10000000}, "y2": {"datum": 1}}},
    {"data": {"values": [{}]}, "mark": {"type": "text", "text": "Midguts", "font": "Lato", "fontSize": 11.5, "color": "#222", "baseline": "middle"}, "encoding": {"x": {"datum": "Mid HWE", "bandPosition": 0}, "y": {"datum": 13000000}}},
    {"data": {"values": [{}]}, "mark": {"type": "text", "text": "Carcasses", "font": "Lato", "fontSize": 11.5, "color": "#222", "baseline": "middle"}, "encoding": {"x": {"datum": "Car HWE", "bandPosition": 0}, "y": {"datum": 13000000}}}
   ]},
  {"width": 104, "height": 126, "data": {"name": "rows"}, "view": {"stroke": "#c9d1e1", "strokeWidth": 1.2},
   "encoding": {"y": {"field": "row", "type": "nominal", "scale": {"type": "band", "domain": ["Total samples","Number infected","Percent infected","P-value (infection)","Mean titer","P-value (titer)","Standard deviation","Standard error"], "paddingInner": 0, "paddingOuter": 0}, "axis": null}},
   "layer": [
    {"mark": {"type": "rule", "color": "#c9d1e1", "strokeWidth": 1.2}, "encoding": {"y": {"field": "row", "type": "nominal", "bandPosition": 0}}},
    {"transform": [{"filter": "indexof(datum.row, 'P-value') == 0"}], "mark": {"type": "rule", "color": "#c9d1e1", "strokeWidth": 1.2},
     "encoding": {"x": {"datum": "split", "bandPosition": 0, "scale": {"type": "band", "domain": ["name", "split"], "paddingInner": 0, "paddingOuter": 0}, "axis": null}, "y": {"field": "row", "type": "nominal", "bandPosition": 0}, "y2": {"field": "row", "bandPosition": 1}}},
    {"transform": [{"filter": "indexof(['Total samples','Number infected','Standard deviation','Standard error'], datum.row) >= 0"}], "mark": {"type": "text", "font": "Lato", "fontSize": 10.5, "color": "#1a1a1a", "align": "left", "dx": 3},
     "encoding": {"x": {"datum": "name", "bandPosition": 0, "axis": null}, "text": {"field": "t"}}},
    {"transform": [{"filter": "indexof(['Total samples','Number infected','Standard deviation','Standard error'], datum.row) < 0"}], "mark": {"type": "text", "font": "Lato", "fontSize": 10.5, "fontWeight": "bold", "color": "#1a1a1a", "align": "left", "dx": 3},
     "encoding": {"x": {"datum": "name", "bandPosition": 0, "axis": null}, "text": {"field": "t"}}}
   ]},
  {"width": 194, "height": 126, "data": {"name": "b1t"}, "view": {"stroke": "#c9d1e1", "strokeWidth": 1.2},
   "encoding": {"y": {"field": "row", "type": "nominal", "scale": {"type": "band", "domain": ["Total samples","Number infected","Percent infected","P-value (infection)","Mean titer","P-value (titer)","Standard deviation","Standard error"], "paddingInner": 0, "paddingOuter": 0}, "axis": null}},
   "layer": [
    {"mark": {"type": "rule", "color": "#c9d1e1", "strokeWidth": 1.2}, "encoding": {"y": {"field": "row", "type": "nominal", "bandPosition": 0}}},
    {"mark": {"type": "rule", "color": "#c9d1e1", "strokeWidth": 1.2},
     "encoding": {"x": {"field": "col", "type": "nominal", "bandPosition": 0, "scale": {"type": "band", "domain": ["Mid PUbB2","Mid HWE","Car PUbB2","Car HWE"], "paddingInner": 0, "paddingOuter": 0}, "axis": null}, "y": {"field": "row", "type": "nominal", "bandPosition": 0}, "y2": {"field": "row", "bandPosition": 1}}},
    {"transform": [{"filter": "indexof(['Total samples','Number infected','Standard deviation','Standard error'], datum.row) >= 0"}], "mark": {"type": "text", "font": "Lato", "fontSize": 10.5, "color": "#1a1a1a"},
     "encoding": {"x": {"field": "col", "type": "nominal", "axis": null}, "text": {"field": "t"}}},
    {"transform": [{"filter": "datum.row == 'Percent infected' || datum.row == 'Mean titer'"}], "mark": {"type": "text", "font": "Lato", "fontSize": 10.5, "fontWeight": "bold", "color": "#1a1a1a"},
     "encoding": {"x": {"field": "col", "type": "nominal", "axis": null}, "text": {"field": "t"}}},
    {"transform": [{"filter": "indexof(datum.row, 'P-value') == 0"}], "mark": {"type": "text", "font": "Lato", "fontSize": 10.5, "fontWeight": "bold", "color": "#1a1a1a"},
     "encoding": {"x": {"field": "col", "type": "nominal", "bandPosition": 1, "axis": null}, "text": {"field": "t"}}}
   ]}
 ], "columns": 2, "spacing": {"row": 21, "column": 0}, "bounds": "flush"},
 {"concat": [
  {"width": 98, "height": 1, "data": {"values": []}, "mark": "point", "view": {"stroke": "transparent"}},
  {"width": 192, "height": 315,
   "title": {"text": "DENV2-QR94 (14 days pbm)", "font": "Lato", "fontSize": 16, "fontWeight": "normal", "color": "#111", "anchor": "middle", "frame": "group", "baseline": "alphabetic", "offset": -0.75, "dx": 1},
   "layer": [
    {"data": {"name": "b2"},
     "transform": [{"window": [{"op": "row_number", "as": "rn"}, {"op": "count", "as": "n"}], "groupby": ["g", "v"], "frame": [null, null]},
                   {"calculate": "datum.v <= 1 ? (datum.n > 1 ? ((datum.rn - 1) / (datum.n - 1) - 0.5) * 3.1 : 0) : datum.rn - (datum.n + 1) / 2", "as": "off"}],
     "mark": {"type": "point", "filled": true, "size": 45, "opacity": 1, "strokeWidth": 0},
     "encoding": {
      "x": {"field": "g", "type": "nominal", "scale": {"type": "band", "domain": ["Mid PUbB2","Mid HWE","Car PUbB2","Car HWE"], "paddingInner": 0, "paddingOuter": 0},
            "axis": {"title": null, "labelExpr": "split(datum.label, ' ')[1]", "labelFont": "Liberation Sans", "labelFontWeight": "bold", "labelFontSize": 10, "labelColor": "#111", "ticks": false, "tickSize": 0, "domainColor": "#222", "domainWidth": 2, "labelPadding": 4, "labelAngle": 0, "grid": false}},
      "xOffset": {"field": "off", "type": "quantitative", "scale": {"domain": [-3, 3], "range": [1.5, 46.5]}},
      "y": {"field": "v", "type": "quantitative", "scale": {"type": "log", "domain": [1, 10000], "nice": false},
            "axis": {"values": [1,10,100,1000,10000], "format": "d", "title": "pfu/ml", "titleFont": "Liberation Sans", "titleFontWeight": "bold", "titleFontSize": 10, "titleColor": "#111", "titlePadding": 3, "labelFont": "Liberation Sans", "labelFontWeight": "bold", "labelFontSize": 8.5, "labelColor": "#222", "tickColor": "#333", "tickWidth": 1.5, "tickSize": 4, "domain": false, "grid": false, "labelPadding": 2}},
      "color": {"condition": {"test": "indexof(datum.g, 'HWE') >= 0", "value": "#ff0000"}, "value": "#0000ff"},
      "shape": {"condition": {"test": "datum.g == 'Mid HWE'", "value": "square"}, "value": "triangle-up"}
     }},
    {"data": {"name": "b2m"}, "mark": {"type": "tick", "color": "#111", "thickness": 1.6, "size": 31}, "encoding": {"x": {"field": "g", "type": "nominal"}, "y": {"field": "v", "type": "quantitative"}}},
    {"data": {"values": [{}]}, "mark": {"type": "rule", "color": "#000", "strokeWidth": 2.5}, "encoding": {"x": {"datum": "Car PUbB2", "bandPosition": 0}, "y": {"datum": 8900}, "y2": {"datum": 1}}},
    {"data": {"values": [{}]}, "mark": {"type": "rule", "color": "#333", "strokeWidth": 1.6}, "encoding": {"x": {"datum": "Mid PUbB2", "bandPosition": 0}, "y": {"datum": 10000}, "y2": {"datum": 1}}},
    {"data": {"values": [{}]}, "mark": {"type": "text", "text": "Midguts", "font": "Lato", "fontSize": 11.5, "color": "#222", "baseline": "middle"}, "encoding": {"x": {"datum": "Mid HWE", "bandPosition": 0}, "y": {"datum": 10300}}},
    {"data": {"values": [{}]}, "mark": {"type": "text", "text": "Carcasses", "font": "Lato", "fontSize": 11.5, "color": "#222", "baseline": "middle"}, "encoding": {"x": {"datum": "Car HWE", "bandPosition": 0}, "y": {"datum": 10300}}}
   ]},
  {"width": 98, "height": 126, "data": {"name": "rows"}, "view": {"stroke": "#c9d1e1", "strokeWidth": 1.2},
   "encoding": {"y": {"field": "row", "type": "nominal", "scale": {"type": "band", "domain": ["Total samples","Number infected","Percent infected","P-value (infection)","Mean titer","P-value (titer)","Standard deviation","Standard error"], "paddingInner": 0, "paddingOuter": 0}, "axis": null}},
   "layer": [
    {"mark": {"type": "rule", "color": "#c9d1e1", "strokeWidth": 1.2}, "encoding": {"y": {"field": "row", "type": "nominal", "bandPosition": 0}}},
    {"transform": [{"filter": "indexof(datum.row, 'P-value') == 0"}], "mark": {"type": "rule", "color": "#c9d1e1", "strokeWidth": 1.2},
     "encoding": {"x": {"datum": "split", "bandPosition": 0, "scale": {"type": "band", "domain": ["name", "split"], "paddingInner": 0, "paddingOuter": 0}, "axis": null}, "y": {"field": "row", "type": "nominal", "bandPosition": 0}, "y2": {"field": "row", "bandPosition": 1}}},
    {"transform": [{"filter": "indexof(['Total samples','Number infected','Standard deviation','Standard error'], datum.row) >= 0"}], "mark": {"type": "text", "font": "Lato", "fontSize": 10.5, "color": "#1a1a1a", "align": "left", "dx": 3},
     "encoding": {"x": {"datum": "name", "bandPosition": 0, "axis": null}, "text": {"field": "t"}}},
    {"transform": [{"filter": "indexof(['Total samples','Number infected','Standard deviation','Standard error'], datum.row) < 0"}], "mark": {"type": "text", "font": "Lato", "fontSize": 10.5, "fontWeight": "bold", "color": "#1a1a1a", "align": "left", "dx": 3},
     "encoding": {"x": {"datum": "name", "bandPosition": 0, "axis": null}, "text": {"field": "t"}}}
   ]},
  {"width": 192, "height": 126, "data": {"name": "b2t"}, "view": {"stroke": "#c9d1e1", "strokeWidth": 1.2},
   "encoding": {"y": {"field": "row", "type": "nominal", "scale": {"type": "band", "domain": ["Total samples","Number infected","Percent infected","P-value (infection)","Mean titer","P-value (titer)","Standard deviation","Standard error"], "paddingInner": 0, "paddingOuter": 0}, "axis": null}},
   "layer": [
    {"mark": {"type": "rule", "color": "#c9d1e1", "strokeWidth": 1.2}, "encoding": {"y": {"field": "row", "type": "nominal", "bandPosition": 0}}},
    {"mark": {"type": "rule", "color": "#c9d1e1", "strokeWidth": 1.2},
     "encoding": {"x": {"field": "col", "type": "nominal", "bandPosition": 0, "scale": {"type": "band", "domain": ["Mid PUbB2","Mid HWE","Car PUbB2","Car HWE"], "paddingInner": 0, "paddingOuter": 0}, "axis": null}, "y": {"field": "row", "type": "nominal", "bandPosition": 0}, "y2": {"field": "row", "bandPosition": 1}}},
    {"transform": [{"filter": "indexof(['Total samples','Number infected','Standard deviation','Standard error'], datum.row) >= 0"}], "mark": {"type": "text", "font": "Lato", "fontSize": 10.5, "color": "#1a1a1a"},
     "encoding": {"x": {"field": "col", "type": "nominal", "axis": null}, "text": {"field": "t"}}},
    {"transform": [{"filter": "datum.row == 'Percent infected' || datum.row == 'Mean titer'"}], "mark": {"type": "text", "font": "Lato", "fontSize": 10.5, "fontWeight": "bold", "color": "#1a1a1a"},
     "encoding": {"x": {"field": "col", "type": "nominal", "axis": null}, "text": {"field": "t"}}},
    {"transform": [{"filter": "indexof(datum.row, 'P-value') == 0"}], "mark": {"type": "text", "font": "Lato", "fontSize": 10.5, "fontWeight": "bold", "color": "#1a1a1a"},
     "encoding": {"x": {"field": "col", "type": "nominal", "bandPosition": 1, "axis": null}, "text": {"field": "t"}}}
   ]}
 ], "columns": 2, "spacing": {"row": 19, "column": 0}, "bounds": "flush"}
], "spacing": 60}
]
}
